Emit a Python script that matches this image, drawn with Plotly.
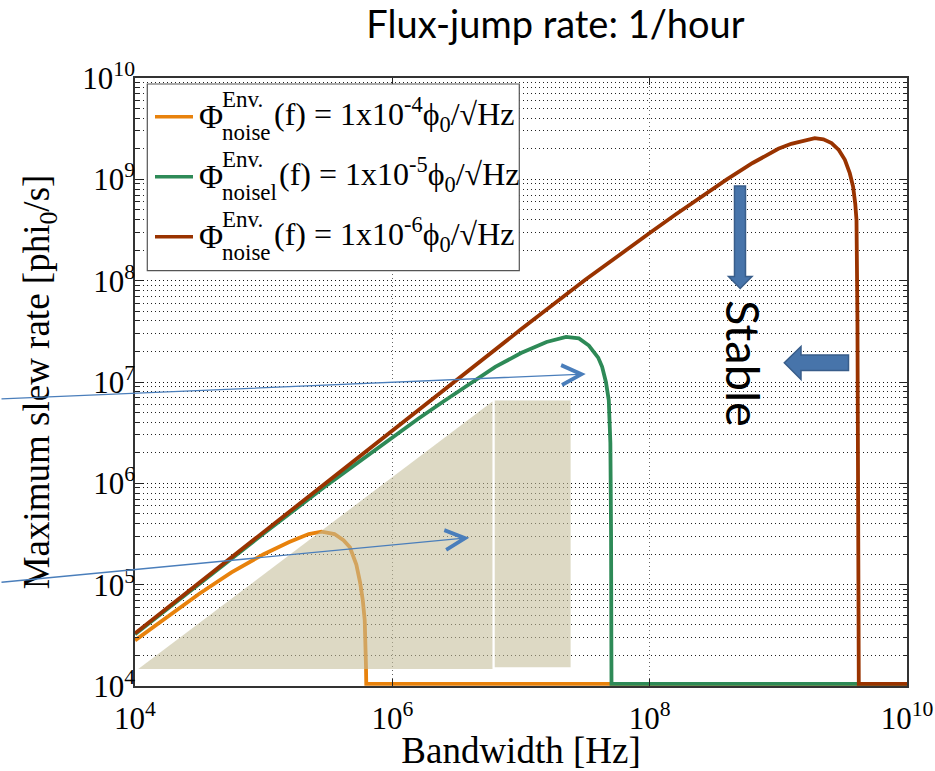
import plotly.graph_objects as go

# ---------------- data ----------------
# Phi_noise = 1e-4 phi0/sqrt(Hz)  (orange)
orange_f = [1.0e4, 1.78e4, 3.16e4, 5.62e4, 1.0e5, 1.58e5, 2.24e5, 2.82e5, 3.55e5, 4.17e5,
            4.68e5, 5.25e5, 5.62e5, 5.89e5, 6.10e5, 6.24e5, 6.27e5, 1.0e10]
orange_s = [2.82e4, 4.79e4, 8.13e4, 1.32e5, 2.0e5, 2.63e5, 3.16e5, 3.33e5, 3.16e5, 2.75e5,
            2.34e5, 1.58e5, 1.05e5, 7.08e4, 4.47e4, 1.58e4, 1.05e4, 1.05e4]

# Phi_noise = 1e-5 phi0/sqrt(Hz)  (green)
green_f = [1.0e4, 3.16e4, 1.0e5, 3.16e5, 6.31e5, 1.0e6, 1.58e6, 2.51e6, 3.98e6, 6.31e6,
           1.0e7, 1.58e7, 2.24e7, 2.82e7, 3.37e7, 3.98e7, 4.27e7, 4.57e7, 4.81e7, 4.95e7,
           5.01e7, 5.05e7, 1.0e10]
green_s = [3.24e4, 1.02e5, 3.2e5, 9.77e5, 1.86e6, 2.84e6, 4.32e6, 6.46e6, 9.66e6, 1.41e7,
           1.93e7, 2.48e7, 2.79e7, 2.69e7, 2.29e7, 1.74e7, 1.41e7, 1.0e7, 6.61e6, 2.51e6,
           3.16e5, 1.05e4, 1.05e4]

# Phi_noise = 1e-6 phi0/sqrt(Hz)  (brown)
brown_f = [1.0e4, 3.16e4, 1.0e5, 3.16e5, 1.0e6, 3.16e6, 1.0e7, 3.16e7, 6.31e7, 1.0e8,
           1.58e8, 2.51e8, 3.98e8, 6.31e8, 1.0e9, 1.26e9, 1.58e9, 1.92e9, 2.24e9, 2.59e9,
           2.95e9, 3.29e9, 3.59e9, 3.81e9, 3.96e9, 4.05e9, 4.12e9, 4.19e9, 4.22e9, 1.0e10]
brown_s = [3.31e4, 1.05e5, 3.31e5, 1.05e6, 3.31e6, 1.05e7, 3.31e7, 1.02e8, 1.95e8, 2.95e8,
           4.47e8, 6.76e8, 1.0e9, 1.45e9, 2.0e9, 2.24e9, 2.43e9, 2.55e9, 2.48e9, 2.28e9,
           1.95e9, 1.56e9, 1.15e9, 8.49e8, 5.75e8, 3.98e8, 4.07e7, 1.0e6, 1.05e4, 1.05e4]

# shaded region (triangle + rectangle)
tri_f = [1.06e4, 6.0e6, 6.0e6]
tri_s = [1.47e4, 6.41e6, 1.47e4]
rect_f = [6.25e6, 2.43e7, 2.43e7, 6.25e6]
rect_s = [1.53e4, 1.53e4, 6.55e6, 6.55e6]

x_tickvals = [1e4, 1e6, 1e8, 1e10]
x_ticktext = ["10<sup>4</sup>", "10<sup>6</sup>", "10<sup>8</sup>", "10<sup>10</sup>"]
y_tickvals = [1e4, 1e5, 1e6, 1e7, 1e8, 1e9, 1e10]
y_ticktext = ["10<sup>4</sup>", "10<sup>5</sup>", "10<sup>6</sup>", "10<sup>7</sup>",
              "10<sup>8</sup>", "10<sup>9</sup>", "10<sup>10</sup>"]

legend_sub = ["noise", "noisel", "noise"]
legend_exp = ["-4", "-5", "-6"]
legend_names = ["1x10^-4", "1x10^-5", "1x10^-6"]

# ---------------- layout helpers ----------------
W, H = 935, 771
ML, MR, MT, MB = 135, 28, 78, 85
PW, PH = W - ML - MR, H - MT - MB


def px(xp):
    return (xp - ML) / PW


def py(yp):
    return (H - MB - yp) / PH


SERIF = "Liberation Serif, Times New Roman, serif"
SANS = "Lato, Open Sans, sans-serif"
C_OR = "#E8820C"
C_GR = "#2E8A57"
C_BR = "#993300"
colors = [C_OR, C_GR, C_BR]

fig = go.Figure()
for f, s, c, n in [(orange_f, orange_s, C_OR, legend_names[0]),
                   (green_f, green_s, C_GR, legend_names[1]),
                   (brown_f, brown_s, C_BR, legend_names[2])]:
    fig.add_trace(go.Scatter(x=f, y=s, mode="lines", name=n,
                             line=dict(color=c, width=3.8), showlegend=False))

for f, s in [(tri_f, tri_s), (rect_f, rect_s)]:
    fig.add_trace(go.Scatter(x=f, y=s, mode="lines", fill="toself",
                             fillcolor="rgba(197,190,154,0.58)", line=dict(width=0),
                             showlegend=False, hoverinfo="skip"))

minor_y = [m * 10 ** e for e in range(4, 10) for m in range(2, 10)]

fig.update_xaxes(type="log", range=[4, 10], tickvals=x_tickvals, ticktext=x_ticktext,
                 automargin=False,
                 ticks="inside", ticklen=7, tickcolor="#222", showline=True,
                 linecolor="#333", linewidth=1.5, mirror="ticks",
                 showgrid=True, gridcolor="#666", griddash="1px,3px", gridwidth=1,
                 ticklabelstandoff=4,
                 tickfont=dict(family=SERIF, size=31, color="black"),
                 title=dict(text="Bandwidth [Hz]", font=dict(family=SERIF, size=37, color="black"),
                            standoff=0))
fig.update_yaxes(type="log", range=[4, 10], tickvals=y_tickvals, ticktext=y_ticktext,
                 automargin=False,
                 ticks="inside", ticklen=8, tickcolor="#222", showline=True,
                 linecolor="#333", linewidth=1.5, mirror="ticks",
                 showgrid=True, gridcolor="#111", griddash="1px,3px", gridwidth=1,
                 ticklabelstandoff=-8,
                 minor=dict(tickvals=minor_y, ticks="inside", ticklen=4, tickcolor="#222",
                            showgrid=True, gridcolor="#222", griddash="1px,3px", gridwidth=1),
                 tickfont=dict(family=SERIF, size=31, color="black"),
                 title=dict(text="Maximum slew rate [phi<sub>0</sub>/s]",
                            font=dict(family=SERIF, size=37, color="black"), standoff=21))

shapes = []
annotations = []

# legend box
shapes.append(dict(type="rect", xref="paper", yref="paper", x0=px(147.3), x1=px(519.3),
                   y0=py(270.7), y1=py(84), line=dict(color="#555", width=1.2),
                   fillcolor="white", layer="above"))
rows = [116.7, 176.7, 236.7]
for i, yc in enumerate(rows):
    shapes.append(dict(type="line", xref="paper", yref="paper", x0=px(155), x1=px(193),
                       y0=py(yc), y1=py(yc), line=dict(color=colors[i], width=3.5), layer="above"))
    annotations.append(dict(text="Φ", x=px(197), y=py(yc), xref="paper", yref="paper",
                            xanchor="left", yanchor="middle", showarrow=False,
                            font=dict(family=SERIF, size=33, color="black")))
    annotations.append(dict(text="Env.", x=px(220), y=py(yc - 17.5), xref="paper", yref="paper",
                            xanchor="left", yanchor="middle", showarrow=False,
                            font=dict(family=SERIF, size=23, color="black")))
    annotations.append(dict(text=legend_sub[i], x=px(220), y=py(yc + 15.5), xref="paper",
                            yref="paper", xanchor="left", yanchor="middle", showarrow=False,
                            font=dict(family=SERIF, size=23, color="black")))
    tail_x = 276.7 if legend_sub[i] == "noisel" else 271.7
    annotations.append(dict(text="(f) = 1x10<sup>%s</sup>ϕ<sub>0</sub>/√Hz" % legend_exp[i],
                            x=px(tail_x), y=py(yc - 2), xref="paper", yref="paper",
                            xanchor="left", yanchor="middle", showarrow=False,
                            font=dict(family=SERIF, size=32, color="black")))

# thin blue arrows
for tip, tail in [((585.7, 374.0), (0.0, 399.0)), ((469.3, 537.7), (0.0, 582.4))]:
    annotations.append(dict(text="", x=px(tip[0]), y=py(tip[1]), xref="paper", yref="paper",
                            ax=tail[0] - tip[0], ay=tail[1] - tip[1], axref="pixel",
                            ayref="pixel", showarrow=True, arrowhead=5, arrowsize=3.0,
                            arrowwidth=1.3, arrowcolor="#4A7EBB", standoff=0))


def path(points):
    return "M " + " L ".join("%.5f,%.5f" % (px(a), py(b)) for a, b in points) + " Z"


down_arrow = [(734.5, 186), (745.5, 186), (745.5, 276.5), (752, 276.5), (740.2, 288.5),
              (728.5, 276.5), (734.5, 276.5)]
left_arrow = [(848.5, 355), (801, 355), (801, 346.5), (784.3, 362.7), (801, 379.5),
              (801, 370.5), (848.5, 370.5)]
for pts in (down_arrow, left_arrow):
    shapes.append(dict(type="path", xref="paper", yref="paper", path=path(pts),
                       fillcolor="#4774AA", line=dict(color="#385D8A", width=1.5), layer="above"))

annotations.append(dict(text="Stable", x=px(744), y=py(363), xref="paper", yref="paper",
                        textangle=90, showarrow=False, xanchor="center", yanchor="middle",
                        font=dict(family=SANS, size=47, color="black")))

fig.update_layout(
    width=W, height=H,
    margin=dict(l=ML, r=MR, t=MT, b=MB),
    paper_bgcolor="white", plot_bgcolor="white",
    showlegend=False,
    title=dict(text="Flux-jump rate: 1/hour", x=555.5 / W, xanchor="center",
               y=1 - 25 / H, yanchor="middle", font=dict(family=SANS, size=38, color="black")),
    shapes=shapes, annotations=annotations,
)

fig.write_html("out.html")
